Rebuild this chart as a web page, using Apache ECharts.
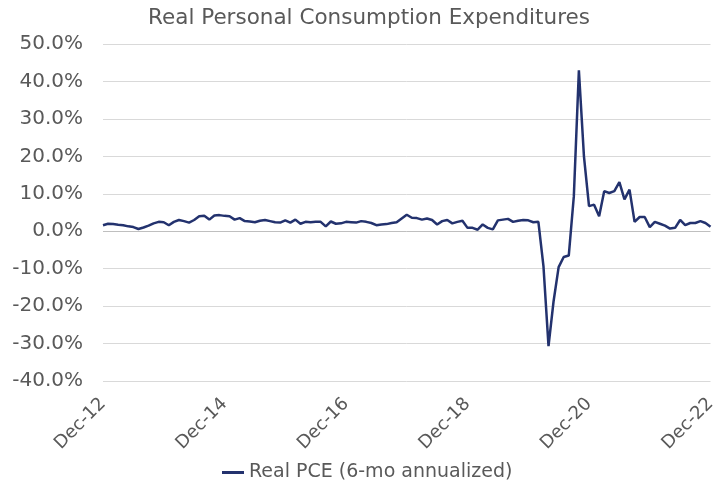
<!DOCTYPE html>
<html>
<head>
<meta charset="utf-8">
<title>Real Personal Consumption Expenditures</title>
<script src="https://cdn.jsdelivr.net/npm/echarts@6/dist/echarts.min.js"></script>
<style>
  html, body { margin: 0; padding: 0; background: #fff; }
  #chart { width: 719px; height: 490px; }
</style>
</head>
<body>
<div id="chart"></div>
<script>
// 月份标签：Dec-12 到 Dec-22
const monthNames = ['Jan', 'Feb', 'Mar', 'Apr', 'May', 'Jun', 'Jul', 'Aug', 'Sep', 'Oct', 'Nov', 'Dec'];
const categories = [];
for (let i = 0; i < 121; i++) {
  const m = (11 + i) % 12;
  const yr = 12 + Math.floor((11 + i) / 12);
  categories.push(monthNames[m] + '-' + yr);
}

// Real PCE (6-mo annualized), %
const pceValues = [
  1.6, 2.0, 1.9, 1.7, 1.6, 1.3, 1.1, 0.6, 1.0, 1.5, 2.1, 2.5,
  2.4, 1.6, 2.5, 3.0, 2.7, 2.3, 3.0, 4.0, 4.1, 3.1, 4.2, 4.3,
  4.1, 4.0, 3.1, 3.5, 2.7, 2.6, 2.4, 2.8, 3.0, 2.7, 2.4, 2.3,
  2.9, 2.3, 3.1, 2.0, 2.5, 2.4, 2.5, 2.5, 1.3, 2.6, 2.0, 2.1,
  2.5, 2.4, 2.3, 2.7, 2.5, 2.2, 1.6, 1.8, 1.9, 2.2, 2.4, 3.4,
  4.4, 3.6, 3.5, 3.1, 3.4, 3.0, 1.8, 2.7, 3.0, 2.1, 2.5, 2.8,
  0.9, 0.9, 0.4, 1.8, 0.9, 0.5, 2.9, 3.1, 3.3, 2.5, 2.8, 3.0,
  2.9, 2.4, 2.5, -9.3, -30.7, -18.7, -9.6, -6.9, -6.5, 9.3, 43.0, 20.0,
  6.7, 7.1, 4.0, 10.7, 10.2, 10.7, 13.1, 8.5, 11.1, 2.5, 3.8, 3.8,
  1.1, 2.5, 2.0, 1.5, 0.7, 0.9, 3.0, 1.6, 2.2, 2.2, 2.7, 2.2,
  1.2
];

// Y轴刻度
const yMin = -40;
const yMax = 50;
const yStep = 10;

const textColor = '#595959';
const fontFamily = 'DejaVu Sans, Verdana, sans-serif';

// 网格线颜色，0线稍深
const gridColors = [];
for (let v = yMin; v <= yMax; v += yStep) {
  gridColors.push(v === 0 ? '#bfbfbf' : '#d9d9d9');
}

const chart = echarts.init(document.getElementById('chart'));

chart.setOption({
  animation: false,
  title: {
    text: 'Real Personal Consumption Expenditures',
    left: 143,
    top: 2,
    textStyle: {
      color: textColor,
      fontFamily: fontFamily,
      fontSize: 21.5,
      fontWeight: 'normal'
    }
  },
  legend: {
    bottom: 3,
    left: 217,
    icon: 'rect',
    itemWidth: 22,
    itemHeight: 3,
    itemGap: 4,
    textStyle: {
      color: textColor,
      fontFamily: fontFamily,
      fontSize: 19
    },
    data: ['Real PCE (6-mo annualized)']
  },
  grid: {
    left: 103,
    right: 8,
    top: 44,
    bottom: 109
  },
  xAxis: {
    type: 'category',
    data: categories,
    boundaryGap: false,
    axisLine: { show: false },
    axisTick: { show: false },
    axisLabel: {
      interval: 23,
      rotate: 45,
      margin: 20,
      color: textColor,
      fontFamily: fontFamily,
      fontSize: 18
    }
  },
  yAxis: {
    type: 'value',
    min: yMin,
    max: yMax,
    interval: yStep,
    axisLine: { show: false },
    axisTick: { show: false },
    axisLabel: {
      margin: 20,
      color: textColor,
      fontFamily: fontFamily,
      fontSize: 20,
      formatter: v => v.toFixed(1) + '%'
    },
    splitLine: {
      lineStyle: { color: gridColors, width: 1 }
    }
  },
  series: [
    {
      name: 'Real PCE (6-mo annualized)',
      type: 'line',
      data: pceValues,
      symbol: 'none',
      lineStyle: { color: '#23326e', width: 2.5 },
      itemStyle: { color: '#23326e' }
    }
  ]
});
</script>
</body>
</html>
